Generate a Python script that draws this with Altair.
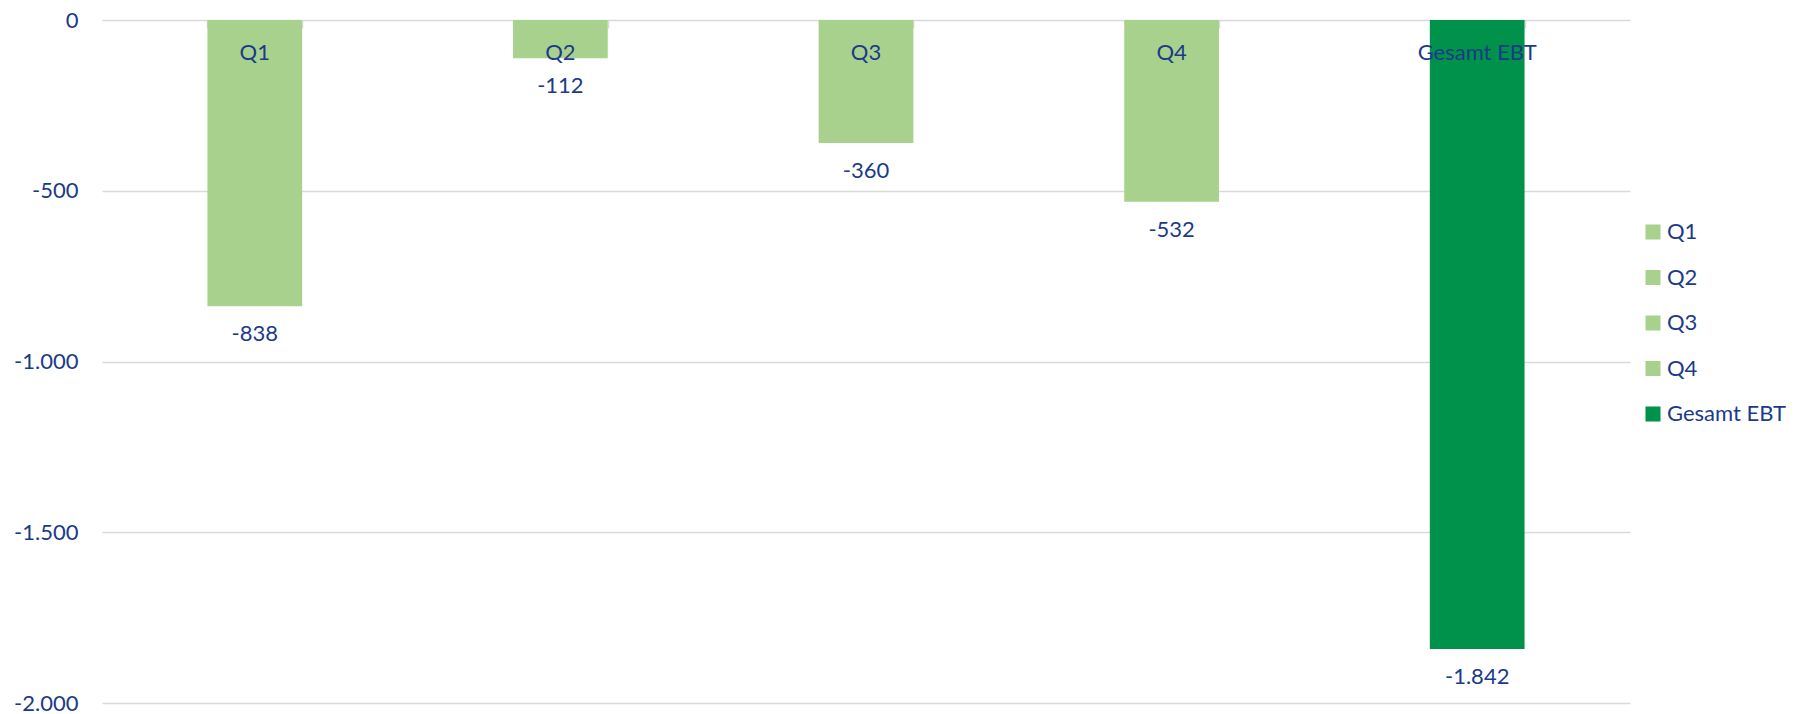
import altair as alt
import pandas as pd

categories = ["Q1", "Q2", "Q3", "Q4", "Gesamt EBT"]
values = [-838, -112, -360, -532, -1842]
colors = ["#A9D18E", "#A9D18E", "#A9D18E", "#A9D18E", "#00914B"]
y_ticks = [0, -500, -1000, -1500, -2000]

TXT = "#1B3A8A"
FONT = "Lato"
FS = 22

df = pd.DataFrame({"cat": categories, "value": values, "zero": [0] * len(values)})

x = alt.X("cat:N", sort=categories, scale=alt.Scale(paddingInner=0.69, paddingOuter=0.345),
          axis=alt.Axis(orient="bottom", offset=-683, labels=False, title=None,
                        domain=False, ticks=True, tickBand="extent", tickSize=8,
                        tickColor="#D9D9D9", tickWidth=1.5))

bars = alt.Chart(df).mark_bar().encode(
    x=x,
    y=alt.Y("value:Q", scale=alt.Scale(domain=[-2000, 0], nice=False),
            axis=alt.Axis(values=y_ticks, format=",d", title=None, domain=False, ticks=False,
                          grid=True, gridColor="#D9D9D9", gridWidth=1.5,
                          labelPadding=24, labelColor=TXT, labelFont=FONT, labelFontSize=FS)),
    color=alt.Color("cat:N", sort=categories,
                    scale=alt.Scale(domain=categories, range=colors),
                    legend=alt.Legend(title=None, orient="none", legendX=1540, legendY=201,
                                      symbolType="square", symbolSize=225, symbolStrokeWidth=0,
                                      labelFont=FONT, labelFontSize=FS, labelColor=TXT,
                                      rowPadding=23.5, labelOffset=3)),
)

vlabels = alt.Chart(df).mark_text(baseline="middle", dy=28, font=FONT, fontSize=FS, color=TXT).encode(
    x=alt.X("cat:N", sort=categories),
    y="value:Q",
    text=alt.Text("value:Q", format=",d"),
)

clabels = alt.Chart(df).mark_text(baseline="middle", dy=33, font=FONT, fontSize=FS, color=TXT).encode(
    x=alt.X("cat:N", sort=categories),
    y="zero:Q",
    text="cat:N",
)

chart = alt.layer(bars, vlabels, clabels).properties(
    width=1528, height=683,
    autosize=alt.AutoSizeParams(type="none"),
    padding={"left": 94, "top": 12, "right": 170, "bottom": 11},
).configure(
    locale=alt.Locale(number=alt.NumberLocale(decimal=",", thousands=".", grouping=[3],
                                              currency=["", " €"], minus="-"))
).configure_view(stroke=None)

chart.save("out.html", embed_options={"renderer": "svg", "actions": False})
